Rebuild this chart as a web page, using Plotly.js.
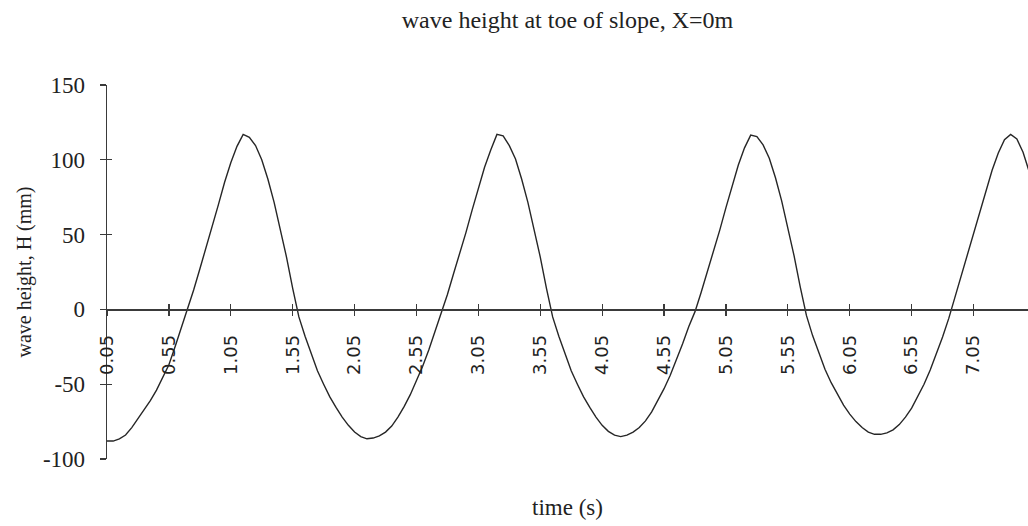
<!DOCTYPE html>
<html>
<head>
<meta charset="utf-8">
<script src="https://cdn.plot.ly/plotly-3.0.1.min.js"></script>
<style>html,body{margin:0;padding:0;background:#fff;}#chart{width:1028px;height:526px;}</style>
</head>
<body>
<div id="chart"></div>
<script>
// time (s), sampled every 0.05 s
const timeS = [
  0.05,0.10,0.15,0.20,0.25,0.30,0.35,0.40,0.45,0.50,
  0.55,0.60,0.65,0.70,0.75,0.80,0.85,0.90,0.95,1.00,
  1.05,1.10,1.15,1.20,1.25,1.30,1.35,1.40,1.45,1.50,
  1.55,1.60,1.65,1.70,1.75,1.80,1.85,1.90,1.95,2.00,
  2.05,2.10,2.15,2.20,2.25,2.30,2.35,2.40,2.45,2.50,
  2.55,2.60,2.65,2.70,2.75,2.80,2.85,2.90,2.95,3.00,
  3.05,3.10,3.15,3.20,3.25,3.30,3.35,3.40,3.45,3.50,
  3.55,3.60,3.65,3.70,3.75,3.80,3.85,3.90,3.95,4.00,
  4.05,4.10,4.15,4.20,4.25,4.30,4.35,4.40,4.45,4.50,
  4.55,4.60,4.65,4.70,4.75,4.80,4.85,4.90,4.95,5.00,
  5.05,5.10,5.15,5.20,5.25,5.30,5.35,5.40,5.45,5.50,
  5.55,5.60,5.65,5.70,5.75,5.80,5.85,5.90,5.95,6.00,
  6.05,6.10,6.15,6.20,6.25,6.30,6.35,6.40,6.45,6.50,
  6.55,6.60,6.65,6.70,6.75,6.80,6.85,6.90,6.95,7.00,
  7.05,7.10,7.15,7.20,7.25,7.30,7.35,7.40,7.45,7.50
];
// wave height H (mm)
const waveHeight = [
  -88,-88,-86.5,-84,-79,-73,-67,-61,-54,-46,
  -37,-25,-12.5,0,13,27,41,55,70,85,
  98,109,117,115,109.5,100,87,71.5,54,35,
  14,-5,-18,-30,-41,-50,-58.5,-65.5,-72,-77.5,
  -82,-85,-86.5,-86,-84.5,-82,-78,-72,-65,-57,
  -48,-38,-27,-15,-3,10,24,37.5,51.5,66.5,
  81.5,95,106.5,117,116,109.5,100.5,87,71.5,54,
  35,14,-5,-18,-30,-41,-50,-58.5,-65.5,-72,
  -77.5,-81.5,-84,-85,-84,-82,-79,-74.5,-68.5,-61,
  -53,-44,-34,-23,-11.5,-1.5,11.5,25,39,53,
  68,83,96.5,108,116.5,115.5,110,101,88,72.5,
  55,36,15,-4,-17.5,-29.5,-40,-49,-57,-64,
  -70,-75,-79,-82,-83.5,-83.5,-82.5,-80.5,-77,-72,
  -66,-58.5,-50,-40.5,-30,-18.5,-6,8,21.5,35.5,
  49.5,64,79,93,104.5,113.5,117,114,105,92
];
// axis ticks
const xTickVals = [0.05,0.55,1.05,1.55,2.05,2.55,3.05,3.55,4.05,4.55,5.05,5.55,6.05,6.55,7.05];
const xTickText = ["0.05","0.55","1.05","1.55","2.05","2.55","3.05","3.55","4.05","4.55","5.05","5.55","6.05","6.55","7.05"];
const yTickVals = [150,100,50,0,-50,-100];
const yTickText = ["150","100","50","0","-50","-100"];

const axisColor = '#3a3a3a';
const serif = 'Liberation Serif, Times New Roman, serif';

const trace = {
  x: timeS, y: waveHeight, type: 'scatter', mode: 'lines',
  line: {color: '#262626', width: 1.4},
  hoverinfo: 'skip', showlegend: false
};
// invisible companion trace so the overlay (cross-tick) axes are drawn
const tickTrace = {
  x: timeS, y: waveHeight, xaxis: 'x2', yaxis: 'y2', type: 'scatter', mode: 'lines',
  line: {color: 'rgba(0,0,0,0)', width: 0}, hoverinfo: 'skip', showlegend: false
};

const range_x = [0.05, 7.49];
const range_y = [-100, 150];

const layout = {
  width: 1028, height: 526,
  margin: {l: 107, r: 0, t: 85, b: 67, pad: 0},
  paper_bgcolor: '#ffffff', plot_bgcolor: '#ffffff',
  showlegend: false,
  title: {
    text: 'wave height at toe of slope, X=0m',
    font: {family: serif, size: 24, color: '#222'},
    xref: 'paper', x: 0.5, xanchor: 'center',
    yref: 'container', y: 0.962, yanchor: 'middle'
  },
  xaxis: {
    range: range_x, anchor: 'free', position: 0.4,
    showline: true, linecolor: axisColor, linewidth: 1.3,
    ticks: 'outside', ticklen: 5, tickwidth: 1.3, tickcolor: axisColor,
    tickmode: 'array', tickvals: xTickVals, ticktext: xTickText,
    tickangle: -90, ticklabelstandoff: 12,
    tickfont: {family: 'DejaVu Sans, sans-serif', size: 18, color: '#222'},
    showgrid: false, zeroline: false, fixedrange: true
  },
  xaxis2: {
    range: range_x, overlaying: 'x', anchor: 'free', position: 0.4,
    showline: false, ticks: 'inside', ticklen: 5, tickwidth: 1.3, tickcolor: axisColor,
    tickmode: 'array', tickvals: xTickVals, showticklabels: false,
    showgrid: false, zeroline: false
  },
  yaxis: {
    range: range_y,
    showline: true, linecolor: axisColor, linewidth: 1.3,
    ticks: 'outside', ticklen: 6, tickwidth: 1.3, tickcolor: axisColor,
    tickmode: 'array', tickvals: yTickVals, ticktext: yTickText,
    ticklabelstandoff: 10,
    tickfont: {family: serif, size: 23, color: '#222'},
    title: {text: 'wave height, H (mm)', font: {family: serif, size: 20, color: '#222'}, standoff: 6},
    showgrid: false, zeroline: false, fixedrange: true
  },
  yaxis2: {
    range: range_y, overlaying: 'y', anchor: 'x2', side: 'left',
    showline: false, ticks: 'inside', ticklen: 5, tickwidth: 1.3, tickcolor: axisColor,
    tickmode: 'array', tickvals: yTickVals, showticklabels: false,
    showgrid: false, zeroline: false
  },
  annotations: [{
    text: 'time (s)', xref: 'paper', yref: 'paper', x: 0.5, y: -0.131,
    xanchor: 'center', yanchor: 'middle', showarrow: false,
    font: {family: serif, size: 23, color: '#222'}
  }]
};

Plotly.newPlot('chart', [trace, tickTrace], layout, {staticPlot: true, displayModeBar: false});
</script>
</body>
</html>
